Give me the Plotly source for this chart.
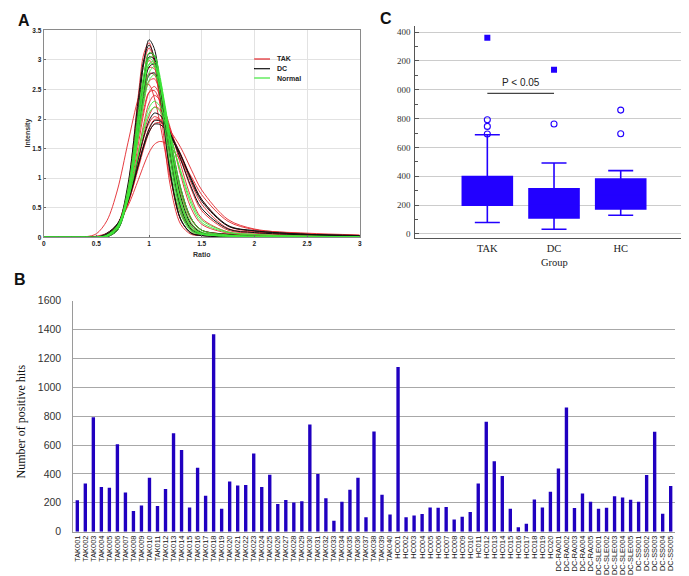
import plotly.graph_objects as go

W, H = 689, 576

# ---------------- Panel A data (density curves) ----------------
RATIO_X = [0, 0.4, 0.5, 0.6, 0.7, 0.8, 0.9, 0.95, 1.0, 1.05, 1.1, 1.15, 1.2, 1.3, 1.4, 1.5, 1.75, 2.0, 2.5, 3.0]

TAK_CURVES = [
    [0, 0, 0, 0.01, 0.14, 0.85, 2.43, 3.1, 3.29, 2.97, 2.3, 1.55, 0.89, 0.22, 0.05, 0.03, 0.01, 0.005, 0, 0],
    [0, 0, 0, 0.01, 0.14, 0.8, 2.27, 2.93, 3.2, 2.99, 2.43, 1.73, 1.07, 0.3, 0.08, 0.04, 0.02, 0.01, 0.005, 0],
    [0, 0, 0, 0.02, 0.18, 0.81, 2.09, 2.7, 2.99, 2.89, 2.5, 1.95, 1.35, 0.51, 0.15, 0.06, 0.03, 0.015, 0.005, 0],
    [0, 0, 0, 0.02, 0.17, 0.77, 1.95, 2.53, 2.87, 2.85, 2.56, 2.09, 1.54, 0.68, 0.23, 0.08, 0.04, 0.02, 0.01, 0.005],
    [0, 0.01, 0.06, 0.28, 0.8, 1.6, 2.36, 2.56, 2.58, 2.36, 1.96, 1.48, 1.01, 0.4, 0.14, 0.07, 0.03, 0.02, 0.01, 0.005],
    [0, 0, 0, 0.02, 0.17, 0.7, 1.76, 2.3, 2.64, 2.68, 2.48, 2.11, 1.64, 0.81, 0.32, 0.12, 0.05, 0.03, 0.01, 0.005],
    [0, 0, 0, 0.03, 0.16, 0.65, 1.59, 2.1, 2.45, 2.55, 2.42, 2.15, 1.79, 1.05, 0.49, 0.22, 0.07, 0.04, 0.015, 0.01],
    [0, 0, 0, 0.03, 0.16, 0.6, 1.46, 1.92, 2.27, 2.4, 2.33, 2.14, 1.86, 1.23, 0.67, 0.32, 0.09, 0.05, 0.02, 0.01],
    [0, 0, 0, 0.04, 0.18, 0.59, 1.34, 1.74, 2.05, 2.2, 2.17, 2.04, 1.83, 1.33, 0.82, 0.45, 0.12, 0.07, 0.03, 0.02],
    [0, 0, 0, 0.04, 0.2, 0.6, 1.3, 1.68, 1.93, 2.04, 2.0, 1.9, 1.8, 1.52, 1.15, 0.8, 0.3, 0.14, 0.06, 0.03],
    [0, 0, 0.01, 0.05, 0.21, 0.58, 1.18, 1.5, 1.77, 1.92, 1.94, 1.88, 1.76, 1.41, 1.0, 0.64, 0.19, 0.1, 0.05, 0.03],
    [0, 0, 0.02, 0.07, 0.22, 0.53, 0.98, 1.22, 1.43, 1.57, 1.62, 1.6, 1.53, 1.3, 1.03, 0.72, 0.27, 0.13, 0.07, 0.04],
    [0, 0, 0, 0.04, 0.19, 0.57, 1.21, 1.57, 1.84, 1.99, 1.99, 1.9, 1.75, 1.36, 0.92, 0.56, 0.15, 0.09, 0.04, 0.02],
    [0, 0, 0, 0.03, 0.2, 0.82, 1.94, 2.47, 2.77, 2.75, 2.45, 1.96, 1.43, 0.59, 0.19, 0.07, 0.03, 0.02, 0.01, 0],
    [0, 0, 0, 0.04, 0.22, 0.78, 1.71, 2.17, 2.45, 2.48, 2.3, 1.96, 1.52, 0.76, 0.3, 0.12, 0.05, 0.03, 0.01, 0.005],
]

DC_CURVES = [
    [0, 0, 0, 0.01, 0.12, 0.72, 2.19, 2.95, 3.34, 3.19, 2.64, 1.87, 1.15, 0.31, 0.07, 0.03, 0.01, 0.005, 0, 0],
    [0, 0, 0, 0.02, 0.18, 0.9, 2.36, 3.0, 3.25, 3.04, 2.47, 1.76, 1.09, 0.3, 0.07, 0.03, 0.01, 0.005, 0, 0],
    [0, 0, 0, 0.01, 0.12, 0.67, 1.98, 2.69, 3.11, 3.08, 2.68, 2.05, 1.37, 0.46, 0.12, 0.05, 0.02, 0.01, 0.005, 0],
    [0, 0, 0, 0.02, 0.15, 0.74, 2.02, 2.66, 3.05, 3.01, 2.65, 2.05, 1.42, 0.52, 0.14, 0.06, 0.02, 0.01, 0.005, 0],
    [0, 0, 0, 0.02, 0.15, 0.7, 1.86, 2.48, 2.88, 2.93, 2.67, 2.19, 1.61, 0.69, 0.22, 0.08, 0.03, 0.015, 0.005, 0],
    [0, 0, 0, 0.03, 0.17, 0.73, 1.82, 2.38, 2.74, 2.78, 2.58, 2.18, 1.7, 0.84, 0.32, 0.12, 0.05, 0.02, 0.01, 0.005],
    [0, 0, 0, 0.05, 0.22, 0.65, 1.35, 1.7, 1.97, 2.1, 2.07, 1.96, 1.77, 1.32, 0.85, 0.49, 0.14, 0.08, 0.04, 0.02],
    [0, 0, 0, 0.05, 0.21, 0.6, 1.24, 1.56, 1.83, 1.97, 1.97, 1.89, 1.75, 1.4, 0.96, 0.61, 0.19, 0.11, 0.05, 0.03],
    [0, 0, 0, 0.07, 0.23, 0.62, 1.23, 1.54, 1.78, 1.91, 1.91, 1.84, 1.71, 1.39, 0.99, 0.64, 0.2, 0.11, 0.05, 0.03],
]

NORMAL_CURVES = [
    [0, 0, 0, 0.02, 0.15, 0.76, 2.06, 2.72, 3.12, 3.08, 2.68, 2.05, 1.37, 0.46, 0.12, 0.05, 0.02, 0.01, 0.005, 0],
    [0, 0, 0, 0.01, 0.12, 0.65, 1.88, 2.56, 3.02, 3.07, 2.76, 2.2, 1.56, 0.59, 0.16, 0.06, 0.02, 0.01, 0.005, 0],
    [0, 0, 0, 0.02, 0.18, 0.82, 2.13, 2.75, 3.04, 2.93, 2.49, 1.85, 1.22, 0.39, 0.1, 0.05, 0.02, 0.01, 0.005, 0],
    [0, 0, 0, 0.02, 0.15, 0.71, 1.89, 2.52, 2.93, 2.98, 2.69, 2.18, 1.59, 0.63, 0.19, 0.07, 0.03, 0.015, 0.005, 0],
    [0, 0, 0, 0.02, 0.15, 0.67, 1.76, 2.36, 2.78, 2.89, 2.69, 2.26, 1.71, 0.75, 0.25, 0.09, 0.03, 0.015, 0.005, 0],
    [0, 0, 0, 0.03, 0.18, 0.7, 1.72, 2.27, 2.65, 2.75, 2.58, 2.2, 1.72, 0.84, 0.32, 0.12, 0.04, 0.02, 0.01, 0.005],
    [0, 0, 0, 0.03, 0.18, 0.63, 1.44, 1.86, 2.19, 2.3, 2.23, 2.03, 1.74, 1.1, 0.56, 0.25, 0.08, 0.04, 0.02, 0.01],
    [0, 0, 0, 0.04, 0.2, 0.65, 1.41, 1.81, 2.1, 2.2, 2.14, 1.96, 1.71, 1.13, 0.61, 0.29, 0.09, 0.05, 0.02, 0.01],
    [0, 0, 0, 0.02, 0.16, 0.74, 1.98, 2.6, 2.92, 2.93, 2.62, 2.1, 1.5, 0.56, 0.16, 0.06, 0.02, 0.01, 0.005, 0],
]

A_LEGEND = ["TAK", "DC", "Normal"]
A_COLORS = ["#e3262b", "#111111", "#3fe83a"]

# ---------------- Panel B data ----------------
SAMPLE_IDS = ([f"TAK{i:03d}" for i in range(1, 41)]
              + [f"HC{i:03d}" for i in range(1, 21)]
              + [f"DC-RA{i:03d}" for i in range(1, 6)]
              + [f"DC-SLE{i:03d}" for i in range(1, 6)]
              + [f"DC-SS{i:03d}" for i in range(1, 6)])

POSITIVE_HITS = [
    217, 334, 792, 309, 304, 605, 271, 143, 182, 373,
    178, 295, 682, 566, 168, 443, 248, 1366, 158, 348,
    320, 323, 541, 310, 394, 192, 220, 202, 210, 742,
    400, 232, 75, 208, 291, 373, 100, 693, 256, 119,
    1139, 100, 112, 123, 168, 165, 171, 85, 103, 137,
    334, 761, 487, 386, 158, 30, 55, 223, 168, 276,
    437, 860, 164, 264, 207, 158, 165, 246, 237, 221,
    208, 393, 692, 124, 316,
]
B_TICKS = [0, 200, 400, 600, 800, 1000, 1200, 1400, 1600]

# ---------------- Panel C data ----------------
GROUPS = ["TAK", "DC", "HC"]
BOX_LOW = [79, 33, 130]
BOX_Q1 = [199, 111, 173]
BOX_MED = [300, 200, 270]
BOX_Q3 = [398, 314, 381]
BOX_HIGH = [688, 492, 439]
OUT_GROUP = ["TAK", "TAK", "TAK", "DC", "HC", "HC"]
OUT_VALUE = [693, 746, 792, 762, 695, 859]
FAR_GROUP = ["TAK", "DC"]
FAR_VALUE = [1361, 1139]
SIG_GROUPS = ["TAK", "DC"]
SIG_Y = 975
SIG_TEXT_Y = 1047
C_TICKVALS = [0, 200, 400, 600, 800, 1000, 1200, 1400]
C_TICKTEXT = ["0", "200", "400", "600", "800", "000", "200", "400"]


def fx(p):
    return p / W


def fy(p):
    return 1 - p / H


SERIF = "Liberation Serif, Times New Roman, serif"
SANS = "Liberation Sans, Arial, sans-serif"

fig = go.Figure()

# Panel A curves
for curves, col, lw in [(TAK_CURVES, A_COLORS[0], 0.9), (DC_CURVES, A_COLORS[1], 1.0),
                        (NORMAL_CURVES, A_COLORS[2], 0.9)]:
    for c in curves:
        fig.add_trace(go.Scatter(x=RATIO_X, y=c, mode="lines",
                                 line=dict(color=col, width=lw, shape="spline", smoothing=0.9),
                                 xaxis="x", yaxis="y", showlegend=False, hoverinfo="skip"))

# Panel C box plot
fig.add_trace(go.Box(x=GROUPS, q1=BOX_Q1, median=BOX_MED, q3=BOX_Q3,
                     lowerfence=BOX_LOW, upperfence=BOX_HIGH,
                     boxpoints=False, fillcolor="#2200ff",
                     line=dict(color="#2200ff", width=1.6), whiskerwidth=0.5,
                     width=0.75, xaxis="x2", yaxis="y2", showlegend=False))
fig.add_trace(go.Scatter(x=OUT_GROUP, y=OUT_VALUE, mode="markers",
                         marker=dict(symbol="circle-open", size=6, color="#2200ff", line=dict(width=1.1)),
                         xaxis="x2", yaxis="y2", showlegend=False))
fig.add_trace(go.Scatter(x=FAR_GROUP, y=FAR_VALUE, mode="markers",
                         marker=dict(symbol="square", size=6, color="#2200ff"),
                         xaxis="x2", yaxis="y2", showlegend=False))
fig.add_trace(go.Scatter(x=SIG_GROUPS, y=[SIG_Y, SIG_Y], mode="lines",
                         line=dict(color="#444444", width=1.3),
                         xaxis="x2", yaxis="y2", showlegend=False))

# Panel B bars
fig.add_trace(go.Bar(x=SAMPLE_IDS, y=POSITIVE_HITS, marker=dict(color="#2000c0", line=dict(width=0)),
                     xaxis="x3", yaxis="y3", showlegend=False))

fig.update_layout(
    width=W, height=H, template="none",
    margin=dict(l=0, r=0, t=0, b=0),
    paper_bgcolor="white", plot_bgcolor="white",
    font=dict(family=SANS, color="#222"),
    showlegend=False, bargap=0.58,
    # Panel A
    xaxis=dict(domain=[fx(35.7), fx(351.7)], range=[0, 3], dtick=0.5, tick0=0,
               showgrid=True, gridcolor="#e2e2e2", gridwidth=1, zeroline=False,
               showline=True, linecolor="#8a8a8a", linewidth=1, mirror=True,
               ticks="inside", ticklen=2, tickcolor="#666",
               tickfont=dict(size=6.5, family=SANS, color="#222", weight="bold"),
               automargin=False, fixedrange=True),
    yaxis=dict(domain=[fy(229.3), fy(22.3)], range=[0, 3.5], dtick=0.5, tick0=0,
               showgrid=True, gridcolor="#e2e2e2", gridwidth=1, zeroline=False,
               showline=True, linecolor="#8a8a8a", linewidth=1, mirror=True,
               ticks="inside", ticklen=2, tickcolor="#666",
               tickfont=dict(size=6.5, family=SANS, color="#222", weight="bold"),
               automargin=False, fixedrange=True),
    # Panel C
    xaxis2=dict(domain=[fx(407.3), fx(685)], type="category", categoryorder="array",
                categoryarray=GROUPS, range=[-1.08, 3.084], showgrid=False, zeroline=False,
                showline=True, linecolor="#555", linewidth=1, ticks="",
                tickfont=dict(size=10.5, family=SERIF, color="#222"),
                automargin=False, fixedrange=True),
    yaxis2=dict(domain=[fy(230), fy(18.3)], range=[-28, 1440], tickmode="array",
                tickvals=C_TICKVALS, ticktext=C_TICKTEXT,
                showgrid=True, gridcolor="#cccccc", gridwidth=1, zeroline=False,
                showline=True, linecolor="#555", linewidth=1,
                ticks="inside", ticklen=4, tickcolor="#555", ticklabelstandoff=2,
                minor=dict(tickmode="linear", tick0=0, dtick=100, ticks="inside", ticklen=3,
                           tickcolor="#555", showgrid=False),
                tickfont=dict(size=9, family=SERIF, color="#333"),
                automargin=False, fixedrange=True),
    # Panel B
    xaxis3=dict(domain=[fx(65.3), fx(666.7)], type="category", tickmode="array",
                tickvals=SAMPLE_IDS, ticktext=SAMPLE_IDS, tickangle=-90,
                range=[-0.5, len(SAMPLE_IDS) - 0.5], showgrid=False, zeroline=False,
                showline=True, linecolor="#9a9a9a", linewidth=1, ticks="",
                tickfont=dict(size=7.4, family=SANS, color="#111"),
                automargin=False, fixedrange=True),
    yaxis3=dict(domain=[fy(523.7), fy(292.5)], range=[0, 1600], tickmode="array",
                tickvals=B_TICKS, showgrid=True, gridcolor="#a8a8a8", gridwidth=1,
                zeroline=False, showline=True, linecolor="#9a9a9a", linewidth=1,
                ticks="", ticklabelstandoff=9,
                tickfont=dict(size=10.5, family=SANS, color="#333"),
                automargin=False, fixedrange=True, anchor="x3"),
)
fig.update_layout(xaxis3_anchor="y3", xaxis2_anchor="y2", yaxis2_anchor="x2")

ann = []
# panel letters
ann.append(dict(text="<b>A</b>", x=fx(8), y=fy(12.5), xanchor="left", yanchor="middle",
                font=dict(size=16, family=SANS, color="#111")))
ann.append(dict(text="<b>C</b>", x=fx(370), y=fy(10.5), xanchor="left", yanchor="middle",
                font=dict(size=16, family=SANS, color="#111")))
ann.append(dict(text="<b>B</b>", x=fx(4), y=fy(271), xanchor="left", yanchor="middle",
                font=dict(size=16, family=SANS, color="#111")))
# panel A axis titles
ann.append(dict(text="<b>Ratio</b>", x=fx(193.5), y=fy(246.5), xanchor="center", yanchor="middle",
                font=dict(size=7, family=SANS, color="#333")))
ann.append(dict(text="<b>Intensity</b>", x=fx(19.5), y=fy(125), xanchor="center", yanchor="middle",
                textangle=-90, font=dict(size=7, family=SANS, color="#333")))
# panel A legend
leg_y = [51, 60.7, 70]
shapes = []
for name, col, yy in zip(A_LEGEND, A_COLORS, leg_y):
    shapes.append(dict(type="line", xref="paper", yref="paper", x0=fx(246), x1=fx(262),
                       y0=fy(yy), y1=fy(yy), line=dict(color=col, width=1.2)))
    ann.append(dict(text="<b>" + name + "</b>", x=fx(266.5), y=fy(yy), xanchor="left", yanchor="middle",
                    font=dict(size=7, family=SANS, color="#222")))
# panel C texts
ann.append(dict(text="Group", x=fx(546), y=fy(254.5), xanchor="center", yanchor="middle",
                font=dict(size=10.5, family=SERIF, color="#222")))
ann.append(dict(text="P < 0.05", x=0.5, xref="x2", y=SIG_TEXT_Y, yref="y2",
                xanchor="center", yanchor="middle",
                font=dict(size=10, family=SANS, color="#222")))
# panel B y title
ann.append(dict(text="Number of positive hits", x=fx(12.5), y=fy(414), xanchor="center", yanchor="middle",
                textangle=-90, font=dict(size=12, family=SERIF, color="#111")))

for a in ann:
    a.setdefault("xref", "paper")
    a.setdefault("yref", "paper")
    a["showarrow"] = False
fig.update_layout(annotations=ann, shapes=shapes)

fig.write_html("out.html")
